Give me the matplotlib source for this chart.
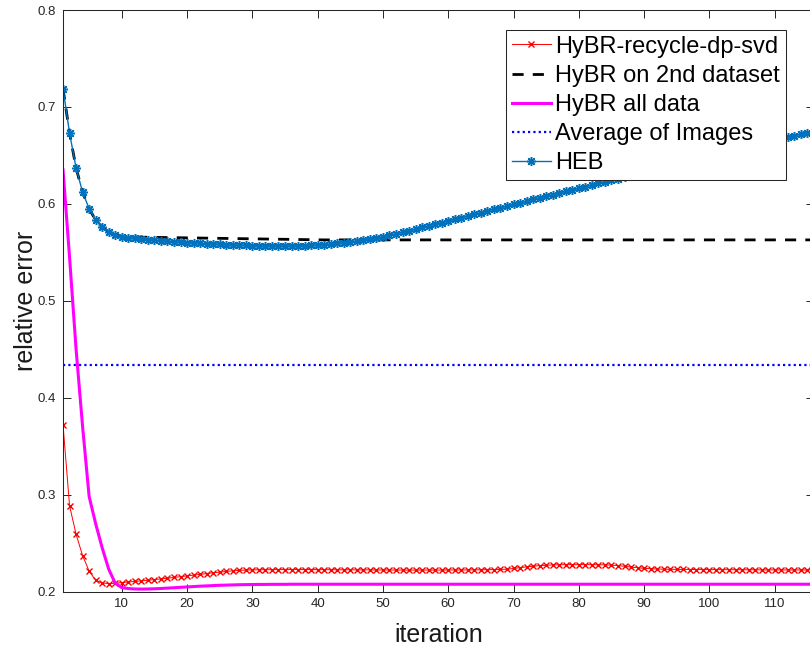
import numpy as np
from matplotlib import pyplot as plt

plt.rcParams['font.family'] = ['Liberation Sans', 'DejaVu Sans']

# relative error per iteration
recycle_dp_svd = [0.372, 0.2886, 0.259, 0.237, 0.221, 0.2116, 0.2088, 0.2082, 0.2085, 0.2092,
                  0.2098, 0.2104, 0.2110, 0.2116, 0.2123, 0.2130, 0.2137, 0.2145, 0.2153, 0.2161,
                  0.2169, 0.2177, 0.2185, 0.2193, 0.2200, 0.2207, 0.2213, 0.2218, 0.2221, 0.2223,
                  0.2224, 0.2225, 0.2225, 0.2226, 0.2226, 0.2226, 0.2226, 0.2226, 0.2226, 0.2225,
                  0.2225, 0.2225, 0.2224, 0.2224, 0.2224, 0.2223, 0.2223, 0.2223, 0.2222, 0.2222,
                  0.2222, 0.2221, 0.2221, 0.2221, 0.2221, 0.2221, 0.2221, 0.2221, 0.2221, 0.2222,
                  0.2222, 0.2222, 0.2223, 0.2223, 0.2224, 0.2225, 0.2226, 0.2228, 0.2230, 0.2238,
                  0.2246, 0.2254, 0.2261, 0.2267, 0.2271, 0.2274, 0.2276, 0.2277, 0.2277, 0.2277,
                  0.2277, 0.2277, 0.2276, 0.2275, 0.2272, 0.2267, 0.2260, 0.2252, 0.2245, 0.2239,
                  0.2235, 0.2232, 0.2230, 0.2229, 0.2228, 0.2228, 0.2227, 0.2227, 0.2226, 0.2226,
                  0.2226, 0.2225, 0.2225, 0.2225, 0.2224, 0.2224, 0.2224, 0.2223, 0.2223, 0.2223,
                  0.2223, 0.2222, 0.2222, 0.2222, 0.2222, 0.2222]

second_dataset = [0.719, 0.673, 0.637, 0.612, 0.595, 0.583, 0.576, 0.571, 0.568, 0.5665,
                  0.5660, 0.5658, 0.5656, 0.5655, 0.5654, 0.5653, 0.5652, 0.5651, 0.5650, 0.5649,
                  0.5648, 0.5647, 0.5646, 0.5645, 0.5644, 0.5643, 0.5642, 0.5641, 0.5640, 0.5639,
                  0.5638, 0.5637, 0.5636, 0.5635, 0.5634, 0.5633, 0.5632, 0.5631, 0.5630, 0.5629,
                  0.5628, 0.5628, 0.5628, 0.5628, 0.5628, 0.5628, 0.5628, 0.5628, 0.5628, 0.5628,
                  0.5628, 0.5628, 0.5628, 0.5628, 0.5628, 0.5628, 0.5628, 0.5628, 0.5628, 0.5628,
                  0.5628, 0.5628, 0.5628, 0.5628, 0.5628, 0.5628, 0.5628, 0.5628, 0.5628, 0.5628,
                  0.5628, 0.5628, 0.5628, 0.5628, 0.5628, 0.5628, 0.5628, 0.5628, 0.5628, 0.5628,
                  0.5628, 0.5628, 0.5628, 0.5628, 0.5628, 0.5628, 0.5628, 0.5628, 0.5628, 0.5628,
                  0.5628, 0.5628, 0.5628, 0.5628, 0.5628, 0.5628, 0.5628, 0.5628, 0.5628, 0.5628,
                  0.5628, 0.5628, 0.5628, 0.5628, 0.5628, 0.5628, 0.5628, 0.5628, 0.5628, 0.5628,
                  0.5628, 0.5628, 0.5628, 0.5628, 0.5628, 0.5628]

all_data = [0.635, 0.545, 0.450, 0.370, 0.298, 0.270, 0.245, 0.223, 0.2085, 0.2040,
            0.2030, 0.2026, 0.2025, 0.2026, 0.2028, 0.2031, 0.2035, 0.2039, 0.2043, 0.2047,
            0.2051, 0.2055, 0.2058, 0.2061, 0.2064, 0.2066, 0.2068, 0.2070, 0.2071, 0.2072,
            0.2073, 0.2073, 0.2074, 0.2074, 0.2074, 0.2075, 0.2075, 0.2075, 0.2075, 0.2075,
            0.2075, 0.2075, 0.2075, 0.2075, 0.2075, 0.2075, 0.2075, 0.2075, 0.2075, 0.2075,
            0.2075, 0.2075, 0.2075, 0.2075, 0.2075, 0.2075, 0.2075, 0.2075, 0.2075, 0.2075,
            0.2075, 0.2075, 0.2075, 0.2075, 0.2075, 0.2075, 0.2075, 0.2075, 0.2075, 0.2075,
            0.2075, 0.2075, 0.2075, 0.2075, 0.2075, 0.2075, 0.2075, 0.2075, 0.2075, 0.2075,
            0.2075, 0.2075, 0.2075, 0.2075, 0.2075, 0.2075, 0.2075, 0.2075, 0.2075, 0.2075,
            0.2075, 0.2075, 0.2075, 0.2075, 0.2075, 0.2075, 0.2075, 0.2075, 0.2075, 0.2075,
            0.2075, 0.2075, 0.2075, 0.2075, 0.2075, 0.2075, 0.2075, 0.2075, 0.2075, 0.2075,
            0.2075, 0.2075, 0.2075, 0.2075, 0.2075, 0.2075]

avg_images = 0.434

heb = [0.719, 0.673, 0.637, 0.612, 0.595, 0.583, 0.576, 0.571, 0.568, 0.566,
       0.5652, 0.5645, 0.5638, 0.5632, 0.5626, 0.5620, 0.5615, 0.5610, 0.5605, 0.5600,
       0.5596, 0.5592, 0.5588, 0.5585, 0.5582, 0.5579, 0.5576, 0.5574, 0.5572, 0.5570,
       0.5568, 0.5567, 0.5566, 0.5565, 0.5565, 0.5565, 0.5566, 0.5568, 0.5571, 0.5575,
       0.5580, 0.5585, 0.5591, 0.5598, 0.5606, 0.5615, 0.5625, 0.5636, 0.5648, 0.5661,
       0.5675, 0.5690, 0.5706, 0.5722, 0.5739, 0.5756, 0.5773, 0.5790, 0.5807, 0.5824,
       0.5841, 0.5858, 0.5875, 0.5892, 0.5909, 0.5926, 0.5943, 0.5960, 0.5977, 0.5994,
       0.6011, 0.6028, 0.6045, 0.6062, 0.6078, 0.6095, 0.6111, 0.6128, 0.6144, 0.6161,
       0.6177, 0.6194, 0.6210, 0.6226, 0.6243, 0.6259, 0.6276, 0.6292, 0.6308, 0.6325,
       0.6341, 0.6358, 0.6374, 0.6391, 0.6407, 0.6423, 0.6440, 0.6456, 0.6473, 0.6489,
       0.6505, 0.6522, 0.6538, 0.6555, 0.6571, 0.6587, 0.6604, 0.6620, 0.6637, 0.6653,
       0.6670, 0.6686, 0.6702, 0.6719, 0.6735, 0.6752]

iterations = np.arange(1, len(heb) + 1)

fig = plt.figure(figsize=(8.1, 6.5), dpi=100)
ax = fig.add_axes([0.0778, 0.09, 0.927, 0.8946])

ax.plot(iterations, recycle_dp_svd, color='r', lw=0.7, marker='x', markersize=4.5,
        markeredgewidth=1, label='HyBR-recycle-dp-svd')
ax.plot(iterations, second_dataset, color='k', lw=2, dashes=(4, 3.3), label='HyBR on 2nd dataset')
ax.plot(iterations, all_data, color='#FF00FF', lw=2.2, label='HyBR all data')
ax.axhline(avg_images, color='#0000FF', lw=1.6, dashes=(1, 1.4), label='Average of Images')
# matlab style asterisk marker
ax.plot(iterations, heb, color='#0072BD', lw=1, marker=(8, 2, 0), markersize=6.5,
        markeredgewidth=1.1, label='HEB')

ax.set_xlim(1, 116)
ax.set_ylim(0.2, 0.8)
ax.set_xticks(range(10, 111, 10))
ax.set_yticks([0.2, 0.3, 0.4, 0.5, 0.6, 0.7, 0.8])
ax.set_yticklabels(['0.2', '0.3', '0.4', '0.5', '0.6', '0.7', '0.8'])
ax.tick_params(direction='in', top=True, right=True, length=5.5, width=0.7,
               labelsize=9.5, colors='#262626', pad=5)
for s in ax.spines.values():
    s.set_color('#262626')
    s.set_linewidth(0.75)

ax.set_xlabel('iteration', fontsize=18, color='#1a1a1a', labelpad=9)
ax.set_ylabel('relative error', fontsize=18, color='#1a1a1a', labelpad=0)

leg = ax.legend(loc='upper right', bbox_to_anchor=(0.9627, 0.966), borderaxespad=0,
                fontsize=17, fancybox=False, framealpha=1, edgecolor='#262626',
                handlelength=1.65, handletextpad=0.2, borderpad=0.25, labelspacing=0.3,
                numpoints=1)
leg.get_frame().set_linewidth(0.75)

fig.savefig('out.png', dpi=100)
